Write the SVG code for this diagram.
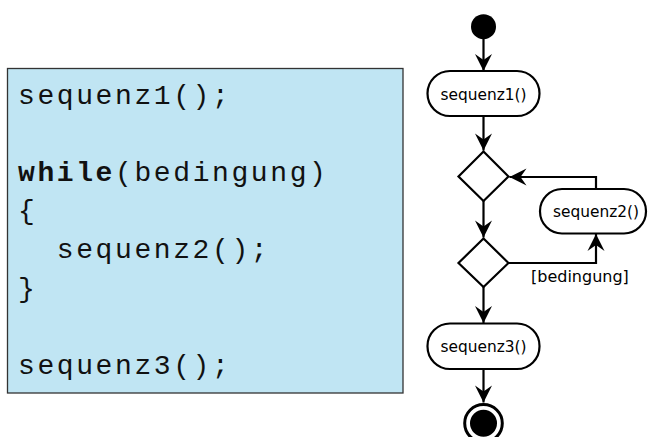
<svg xmlns="http://www.w3.org/2000/svg" width="649" height="437" viewBox="0 0 649 437">
<defs>
<marker id="ah" viewBox="-18 -9 19 18" refX="0" refY="0" markerWidth="19" markerHeight="18" markerUnits="userSpaceOnUse" orient="auto">
<path d="M0,0 L-17,-8.5 L-11,0 L-17,8.5 Z" fill="#000"/>
</marker>
<style>
.code{font-family:"Liberation Mono",monospace;font-size:28px;letter-spacing:2.6px;fill:#111;}
.act{fill:#fff;stroke:#000;stroke-width:2.2;}
.lbl{font-family:"DejaVu Sans",sans-serif;font-size:15.4px;fill:#000;text-anchor:middle;}
.edge{fill:none;stroke:#000;stroke-width:2.2;marker-end:url(#ah);}
</style>
</defs>
<g id="code">
<rect x="7.5" y="68.5" width="395.5" height="324.5" fill="#c0e5f3" stroke="#333" stroke-width="1.3"/>
<text class="code" x="18" y="103.5">sequenz1();</text>
<text class="code" x="18" y="180.7"><tspan font-weight="bold">while</tspan>(bedingung)</text>
<text class="code" x="18" y="219.3">{</text>
<text class="code" x="56.8" y="257.9">sequenz2();</text>
<text class="code" x="18" y="296.5">}</text>
<text class="code" x="18" y="373.7">sequenz3();</text>
</g>
<g id="start"><circle cx="483.5" cy="26.7" r="12.5" fill="#000"/></g>
<g id="seq1"><rect class="act" x="427.5" y="71" width="112" height="45" rx="22.5"/><text class="lbl" x="483.5" y="100">sequenz1()</text></g>
<g id="dec1"><polygon class="act" points="483.5,151.5 508.5,176.5 483.5,201 458.5,176.5"/></g>
<g id="seq2"><rect class="act" x="540" y="189" width="106" height="44.5" rx="22"/><text class="lbl" x="596" y="217.3">sequenz2()</text></g>
<g id="dec2"><polygon class="act" points="483.5,238.5 508.5,263 483.5,287 458.5,263"/></g>
<g id="seq3"><rect class="act" x="427.5" y="323.5" width="112" height="45.5" rx="22.5"/><text class="lbl" x="483.5" y="351.7">sequenz3()</text></g>
<g id="end"><circle cx="483.5" cy="423.3" r="18.8" fill="#fff" stroke="#000" stroke-width="3"/><circle cx="483.5" cy="423.3" r="13.5" fill="#000"/></g>
<g id="connectors">
<path class="edge" d="M483.5,39 V71"/>
<path class="edge" d="M483.5,116 V150.5"/>
<path class="edge" d="M483.5,201 V237.5"/>
<path class="edge" d="M483.5,287 V323"/>
<path class="edge" d="M483.5,369 V402.5"/>
<path class="edge" d="M508.5,263 H596 V234"/>
<path class="edge" d="M596,189 V177 H509.5"/>
<text x="531" y="281.5" font-family="DejaVu Sans, sans-serif" font-size="16px" fill="#000">[bedingung]</text>
</g>
</svg>
